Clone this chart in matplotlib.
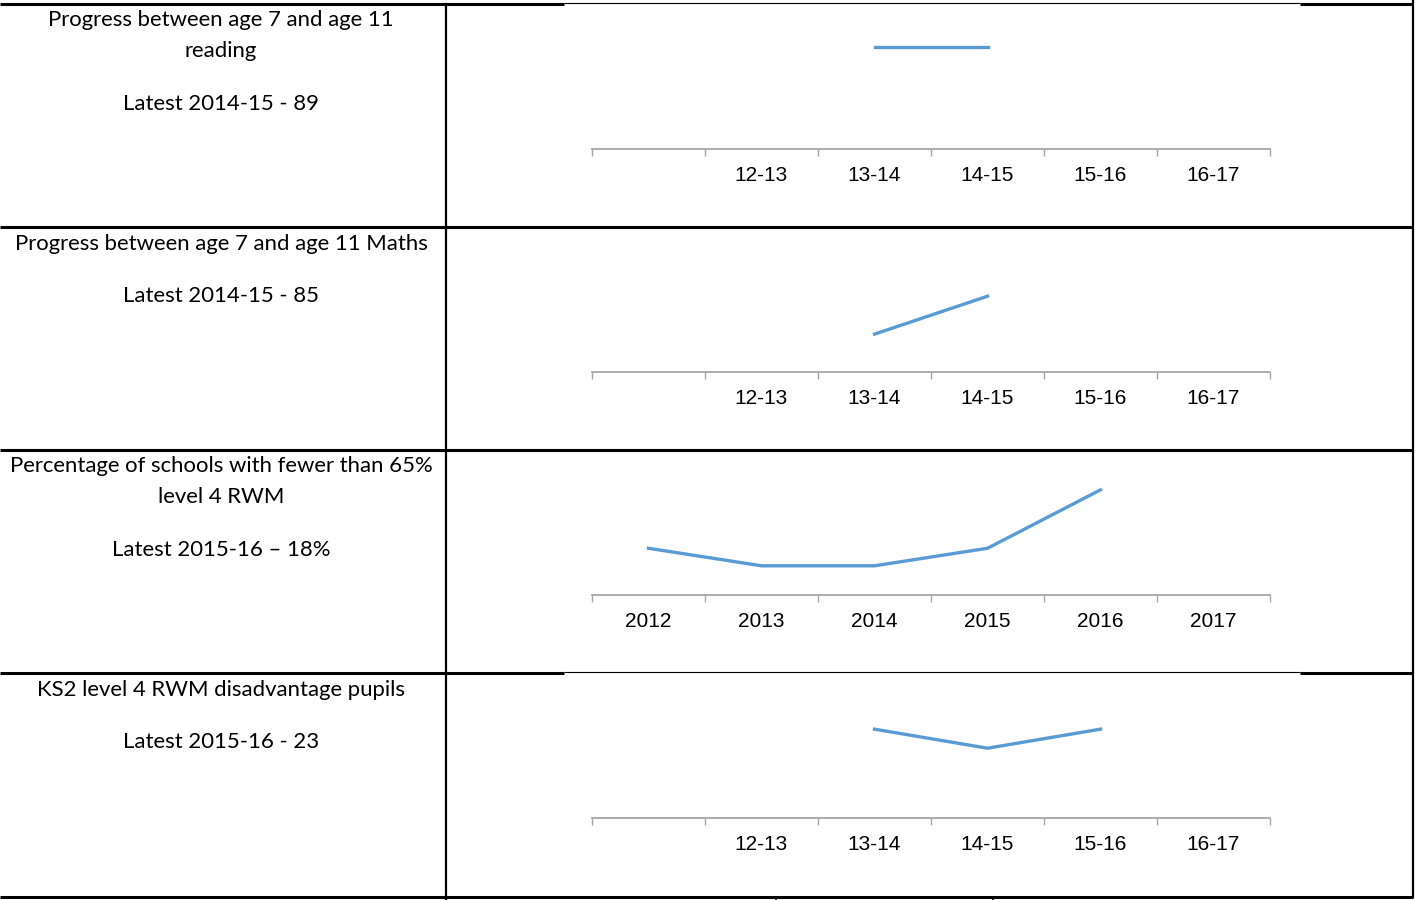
import numpy as np
import matplotlib
matplotlib.use("Agg")
import matplotlib.pyplot as plt

# ---- data ----
year_pairs = ["", "12-13", "13-14", "14-15", "15-16", "16-17"]
years = ["2012", "2013", "2014", "2015", "2016", "2017"]

reading_progress = [np.nan, np.nan, 89, 89, np.nan, np.nan]
maths_progress = [np.nan, np.nan, 80, 85, np.nan, np.nan]
schools_below_65 = [8, 5, 5, 8, 18, np.nan]
ks2_disadvantage = [np.nan, np.nan, 23, 20, 23, np.nan]

row_texts = [
    ["Progress between age 7 and age 11", "reading", None, "Latest 2014-15 - 89"],
    ["Progress between age 7 and age 11 Maths", None, "Latest 2014-15 - 85"],
    ["Percentage of schools with fewer than 65%", "level 4 RWM", None, "Latest 2015-16 \u2013 18%"],
    ["KS2 level 4 RWM disadvantage pupils", None, "Latest 2015-16 - 23"],
]

charts = [
    (year_pairs, reading_progress, (80, 91)),
    (year_pairs, maths_progress, (75, 91.5)),
    (years, schools_below_65, (0, 21.4)),
    (year_pairs, ks2_disadvantage, (9, 28.7)),
]

W, H = 1415, 900
row_tops = [4, 227, 450, 673]
row_bottom = 897
col_div = 446
line_col = "#5B9BD5"
axis_col = "#A6A6A6"

fig = plt.figure(figsize=(W / 100, H / 100), dpi=100)
fig.patch.set_facecolor("white")

# background axes in pixel coordinates for the table
bg = fig.add_axes([0, 0, 1, 1])
bg.set_xlim(0, W)
bg.set_ylim(H, 0)
bg.axis("off")

thick = 2.2
# horizontal rules
for y in row_tops[1:3] + [row_bottom]:
    bg.plot([0, W - 2], [y, y], color="black", lw=thick, solid_capstyle="butt")
for y in [row_tops[0], row_tops[3]]:
    bg.plot([0, 564], [y, y], color="black", lw=thick, solid_capstyle="butt")
    bg.plot([1300, W - 2], [y, y], color="black", lw=thick, solid_capstyle="butt")
    bg.plot([564, 1300], [y - 1, y - 1], color="black", lw=0.8, solid_capstyle="butt")
# vertical rules
bg.plot([col_div, col_div], [row_tops[0], H], color="black", lw=1.6)
bg.plot([W - 2, W - 2], [0, row_bottom], color="black", lw=1.6)
for x in [776, 993]:
    bg.plot([x, x], [row_bottom, H], color="black", lw=1.2)

# left column text
for top, lines in zip(row_tops, row_texts):
    y = top + 16.5
    for ln in lines:
        if ln is not None:
            bg.text(col_div / 2 - 2, y, ln, ha="center", va="center",
                    fontsize=15.9, family="Lato", color="black")
            y += 30.5
        else:
            y += 22.5

# charts
ax_left, ax_right = 592, 1270
for top, (cats, vals, ylim) in zip(row_tops, charts):
    axis_y = top + 145
    ax_top = axis_y - 125
    ax = fig.add_axes([ax_left / W, 1 - axis_y / H,
                       (ax_right - ax_left) / W, (axis_y - ax_top) / H])
    x = np.arange(len(cats))
    ax.plot(x, vals, color=line_col, lw=2.4, solid_joinstyle="miter")
    ax.set_xlim(-0.5, len(cats) - 0.5)
    ax.set_ylim(*ylim)
    ax.patch.set_alpha(0)
    for s in ["top", "left", "right"]:
        ax.spines[s].set_visible(False)
    ax.spines["bottom"].set_color(axis_col)
    ax.spines["bottom"].set_linewidth(1.3)
    ax.set_yticks([])
    ax.set_xticks(np.arange(len(cats) + 1) - 0.5)
    ax.set_xticklabels([])
    ax.tick_params(axis="x", which="major", direction="out", length=5,
                   width=1.0, color=axis_col)
    ax.set_xticks(x, minor=True)
    ax.set_xticklabels(cats, minor=True, fontsize=15, family="Liberation Sans")
    ax.tick_params(axis="x", which="minor", length=0, pad=12.5)

fig.savefig("out.png", dpi=100, facecolor="white")
